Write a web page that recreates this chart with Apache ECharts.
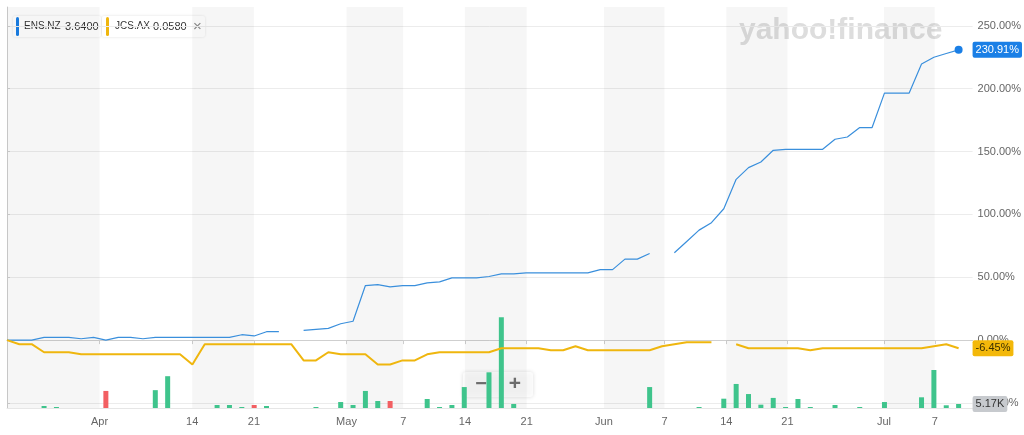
<!DOCTYPE html>
<html><head><meta charset="utf-8">
<script src="https://cdn.jsdelivr.net/npm/echarts@6/dist/echarts.min.js"></script>
<style>html,body{margin:0;padding:0;background:#fff}#c{width:1024px;height:435px}</style>
</head><body><div id="c"></div>
<script>
// trading-day index on x
const ensPct = [0,0,0,2.2,2.2,2.2,1.1,2.2,0,2.2,
 2.2,1.1,2.2,2.2,2.2,2.2,2.2,2.2,2.2,4.3,
 3.3,6.7,6.7,null,7.7,8.5,9.3,13,15,43.4,
 44.2,42.3,43.4,43.4,45.5,46.3,49.5,49.5,49.5,50.6,
 52.7,52.7,53.5,53.5,53.5,53.5,53.5,53.5,56.1,56.1,
 64.4,64.4,68.9,null,69.5,78.5,87.5,93.4,104.5,127.9,
 137.2,141.7,151,151.8,151.8,151.8,151.8,159.8,161.6,169.1,
 169.1,196.5,196.5,196.5,219.6,225,228,230.91];
const jcsPct = [0,-3.23,-3.23,-9.68,-9.68,-9.68,-11.29,-11.29,-11.29,-11.29,
 -11.29,-11.29,-11.29,-11.29,-11.29,-19.35,-3.23,-3.23,-3.23,-3.23,
 -3.23,-3.23,-3.23,-3.23,-16.13,-16.13,-9.68,-11.29,-11.29,-11.29,
 -19.35,-19.35,-16.13,-16.13,-11.29,-9.68,-9.68,-9.68,-9.68,-9.68,
 -6.45,-6.45,-6.45,-6.45,-8.06,-8.06,-4.84,-8.06,-8.06,-8.06,
 -8.06,-8.06,-8.06,-4.84,-3.23,-1.61,-1.61,-1.61,null,-3.23,
 -6.45,-6.45,-6.45,-6.45,-6.45,-8.06,-6.45,-6.45,-6.45,-6.45,
 -6.45,-6.45,-6.45,-6.45,-6.45,-4.84,-3.23,-6.45];
const volume = [0,0,0,2600,1300,0,0,0,22000,0,
 0,0,23000,41000,0,0,0,3900,3900,1300,
 3900,2600,0,0,0,1300,0,7700,3900,22000,
 9000,9000,0,0,11600,1300,3900,27000,0,46000,
 117000,5200,0,0,0,0,0,0,0,0,
 0,0,27000,0,0,0,1300,0,12000,31000,
 18000,4300,13000,1300,11600,1300,0,3900,0,1300,
 0,7700,0,0,13800,49000,3500,5170];
const tickPos = [7.49,14.98,19.98,27.47,32.06,37.05,42.05,48.3,53.2,58.2,63.15,70.96,75.07];
const tickLabels = ['Apr','14','21','May','7','14','21','Jun','7','14','21','Jul','7'];
const yTicks = [-50,0,50,100,150,200,250];
const legendItems = [{name:'ENS.NZ', price:'3.6400'},{name:'JCS.AX', price:'0.0580'}];

const BLUE='#3a8fdc', YEL='#efb60e', GREEN='#3fc48c', RED='#f25f62';
const N = ensPct.length, last = N-1;
const xMax = 78.13;

const ensData = ensPct.map((v,i)=> i===last ? {value:[i,v], symbol:'circle', symbolSize:8} : [i, v===null?'-':v]);
const jcsData = jcsPct.map((v,i)=> [i, v===null?'-':v]);
const volData = volume.map((v,i)=>{
  const prev = i>0 ? ensPct[i-1] : null, cur = ensPct[i];
  const down = prev!==null && cur!==null && cur < prev;
  return {value:[i,v], itemStyle:{color: down?RED:GREEN}};
});
const bounds = [0].concat(tickPos).concat([xMax]);
const bands = [];
for (let k=0;k<bounds.length-1;k+=2) bands.push([{xAxis:bounds[k]},{xAxis:bounds[k+1]}]);

const font = 'Liberation Sans, Arial, sans-serif';
const endLabel = (text,bg,fg)=>({show:true,position:'end',distance:0,formatter:text,backgroundColor:bg,color:fg,
  fontSize:11,fontFamily:font,padding:[3,3,2,3],borderRadius:2});
const chart = echarts.init(document.getElementById('c'));
chart.setOption({
  animation:false,
  grid:{left:7,right:47,top:7,bottom:27},
  xAxis:[{type:'value',min:0,max:xMax,
    axisLine:{lineStyle:{color:'#cfcfcf'}},
    axisTick:{customValues:tickPos,length:4,lineStyle:{color:'#cfcfcf'}},
    axisLabel:{customValues:tickPos,color:'#666',fontSize:11,fontFamily:font,margin:8,
      formatter:v=>{let b=0,d=1e9;tickPos.forEach((p,k)=>{if(Math.abs(p-v)<d){d=Math.abs(p-v);b=k;}});return tickLabels[b];}},
    splitLine:{show:false}},
    {type:'value',min:0,max:xMax,position:'top',axisLine:{show:true,lineStyle:{color:'#e6e6e6'}},
     axisTick:{show:false},axisLabel:{show:false},splitLine:{show:false}}],
  yAxis:[{type:'value',position:'right',min:-54,max:265,
    axisLine:{show:true,lineStyle:{color:'#cfcfcf'}},
    axisTick:{show:true,customValues:yTicks,length:3,lineStyle:{color:'#cfcfcf'}},
    axisLabel:{customValues:yTicks,color:'#666',fontSize:11,fontFamily:font,margin:5,formatter:v=>v.toFixed(2)+'%'},
    splitLine:{show:true,lineStyle:{color:'#ececec'}}},
    {type:'value',show:false,min:0,max:517000,splitLine:{show:false}}],
  series:[
    {type:'bar',yAxisIndex:1,barWidth:5,data:volData,z:1,
     markArea:{silent:true,itemStyle:{color:'rgba(0,0,0,0.036)'},data:bands},
     markLine:{silent:true,symbol:'none',lineStyle:{color:'rgba(0,0,0,0)',width:1},
       label:endLabel((volume[last]/1000).toFixed(2)+'K','#c7cace','#333'),
       data:[{yAxis:volume[last]}]}},
    {type:'line',data:ensData,symbol:'none',lineStyle:{color:BLUE,width:1.2},itemStyle:{color:'#1a7fe6'},z:3,
     markLine:{silent:true,symbol:'none',lineStyle:{color:'rgba(0,0,0,0)',width:1},
       label:endLabel(ensPct[last].toFixed(2)+'%','#1a7fe6','#fff'),
       data:[{yAxis:ensPct[last]}]}},
    {type:'line',data:jcsData,symbol:'none',lineStyle:{color:YEL,width:2},z:4,
     markLine:{silent:true,symbol:'none',lineStyle:{color:'rgba(0,0,0,0)',width:1},
       label:endLabel(jcsPct[last].toFixed(2)+'%','#f3b80a','#3a2e00'),
       data:[{yAxis:jcsPct[last]}]}}
  ],
  graphic:[
    {type:'text',left:739,top:16,z:0,silent:true,style:{text:'yahoo!finance',font:'bold 30px '+font,fill:'#dddddd'}},
    {type:'group',left:13,top:16,z:10,children:[
      {type:'rect',shape:{x:0,y:0,width:88,height:21,r:2},style:{fill:'#fff',shadowBlur:3,shadowColor:'rgba(0,0,0,0.12)'}},
      {type:'rect',shape:{x:3,y:1,width:3,height:19,r:1.5},style:{fill:'#1a7fe6'}},
      {type:'text',x:11,y:10.5,style:{text:legendItems[0].name,font:'10px '+font,fill:'#333',verticalAlign:'middle'}},
      {type:'text',x:52,y:10.5,style:{text:legendItems[0].price,font:'11px '+font,fill:'#333',verticalAlign:'middle'}},
      {type:'rect',shape:{x:89,y:0,width:103,height:21,r:2},style:{fill:'#fff',shadowBlur:3,shadowColor:'rgba(0,0,0,0.12)'}},
      {type:'rect',shape:{x:93,y:1,width:3,height:19,r:1.5},style:{fill:YEL}},
      {type:'text',x:102,y:10.5,style:{text:legendItems[1].name,font:'10px '+font,fill:'#333',verticalAlign:'middle'}},
      {type:'text',x:140,y:10.5,style:{text:legendItems[1].price,font:'11px '+font,fill:'#333',verticalAlign:'middle'}},
      {type:'text',x:180,y:10.5,style:{text:'×',font:'15px '+font,fill:'#888',verticalAlign:'middle'}}
    ]},
    {type:'group',left:463,top:372,z:10,children:[
      {type:'rect',shape:{x:0,y:0,width:70,height:25,r:3},style:{fill:'rgba(255,255,255,0.78)',shadowBlur:4,shadowColor:'rgba(0,0,0,0.18)'}},
      {type:'text',x:18,y:12.5,style:{text:'−',font:'bold 20px '+font,fill:'#707070',align:'center',verticalAlign:'middle'}},
      {type:'text',x:52,y:12.5,style:{text:'+',font:'bold 21px '+font,fill:'#707070',align:'center',verticalAlign:'middle'}}
    ]}
  ]
});
</script></body></html>
